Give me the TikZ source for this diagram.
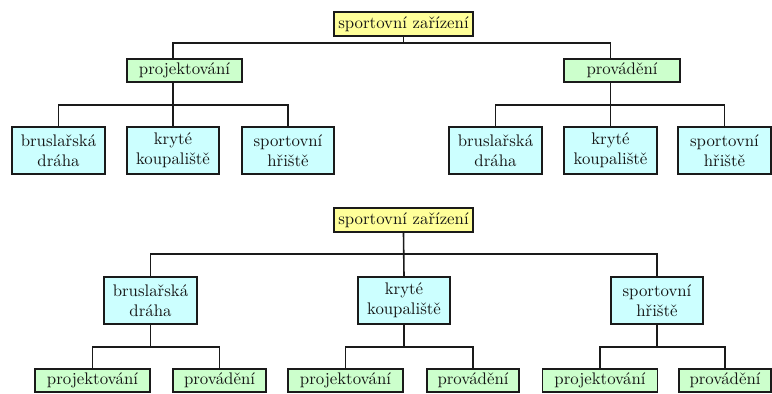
\documentclass[tikz,border=0pt]{standalone}
% Latin Modern Roman 10 design, scaled up for the box labels
\font\boxfnt="[lmroman10-regular]:mapping=tex-text" at 16.8pt
\newcommand\boxtext{\boxfnt\baselineskip20pt\relax}
\definecolor{rootfill}{HTML}{FFFF99}
\definecolor{phasefill}{HTML}{CCFFCC}
\definecolor{kindfill}{HTML}{CCFFFF}
\definecolor{edge}{HTML}{1A1A1A}
\definecolor{ink}{HTML}{141414}
\begin{document}
\begin{tikzpicture}[x=1pt,y=1pt,
  box/.style={draw=edge,line width=1.6pt,inner sep=0pt,align=center,
    text=ink,font=\boxtext},
  rootbox/.style={box,fill=rootfill,minimum width=139pt,minimum height=24pt},
  phasebox/.style={box,fill=phasefill,minimum height=23pt},
  kindbox/.style={box,fill=kindfill,minimum width=92.5pt,minimum height=47pt},
  link/.style={draw=edge,line width=1.6pt}]
\useasboundingbox (0,0) rectangle (772,394);

% upper tree: facility -> phase -> kind
\node[rootbox] (r1) at (403.5,370) {sportovní zařízení};
\node[phasebox,minimum width=115pt] (p1) at (184.5,323.5) {projektování};
\node[phasebox,minimum width=116pt] (v1) at (622,323.5) {provádění};
\node[kindbox] (b1) at (58.5,243.5) {bruslařská\\dráha};
\node[kindbox] (k1) at (173,243.5) {kryté\\koupaliště};
\node[kindbox] (s1) at (288,243.5) {sportovní\\hřiště};
\node[kindbox] (b2) at (495.5,243.5) {bruslařská\\dráha};
\node[kindbox] (k2) at (610.5,243.5) {kryté\\koupaliště};
\node[kindbox] (s2) at (724.5,243.5) {sportovní\\hřiště};

\coordinate (u1) at (0,351);
\coordinate (u2) at (0,289);
\draw[link] (r1.south) -- (r1.south |- u1);
\draw[link] (p1.north -| k1) -- (k1 |- u1) -- (k2 |- u1) -- (v1.north -| k2);
\draw[link] (p1.south -| k1) -- (k1.north);
\draw[link] (b1.north) -- (b1 |- u2) -- (s1 |- u2) -- (s1.north);
\draw[link] (v1.south -| k2) -- (k2.north);
\draw[link] (b2.north) -- (b2 |- u2) -- (s2 |- u2) -- (s2.north);

% lower tree: facility -> kind -> phase
\node[rootbox] (r2) at (403.5,174) {sportovní zařízení};
\node[kindbox] (B) at (150.5,93.5) {bruslařská\\dráha};
\node[kindbox] (K) at (404,93.5) {kryté\\koupaliště};
\node[kindbox] (S) at (657,93.5) {sportovní\\hřiště};
\node[phasebox,minimum width=115pt] (pB) at (92.5,13.5) {projektování};
\node[phasebox,minimum width=92.5pt] (vB) at (219.5,13.5) {provádění};
\node[phasebox,minimum width=115pt] (pK) at (345.5,13.5) {projektování};
\node[phasebox,minimum width=92.5pt] (vK) at (473,13.5) {provádění};
\node[phasebox,minimum width=115pt] (pS) at (600,13.5) {projektování};
\node[phasebox,minimum width=92.5pt] (vS) at (725,13.5) {provádění};

\coordinate (l1) at (0,140);
\coordinate (l2) at (0,47);
\draw[link] (r2.south) -- (K.north);
\draw[link] (B.north) -- (B |- l1) -- (S |- l1) -- (S.north);
\foreach \k/\p/\v in {B/pB/vB,K/pK/vK,S/pS/vS}{
  \draw[link] (\k.south) -- (\k |- l2);
  \draw[link] (\p.north) -- (\p |- l2) -- (\v |- l2) -- (\v.north);
}
\end{tikzpicture}
\end{document}
